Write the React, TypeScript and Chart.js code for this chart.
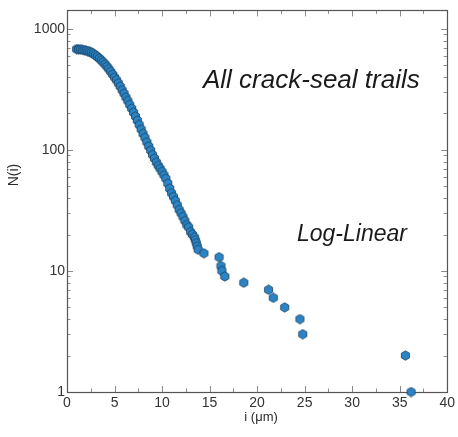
import React, { useEffect, useRef } from "react";
import { Chart, registerables } from "chart.js";

Chart.register(...registerables);

// Vein thickness i (µm) and cumulative number N(i)
const thickness = [
  1.0, 1.2, 1.4, 1.6, 1.8, 2.0, 2.2, 2.4, 2.6, 2.8,
  3.0, 3.2, 3.4, 3.6, 3.8, 4.0, 4.2, 4.4, 4.6, 4.8,
  5.0, 5.2, 5.4, 5.6, 5.8, 6.0, 6.2, 6.4, 6.6, 6.8,
  7.0, 7.2, 7.4, 7.6, 7.8, 8.0, 8.2, 8.4, 8.6, 8.8,
  9.0, 9.2, 9.4, 9.6, 9.8, 10.0, 10.2, 10.4, 10.6, 10.8,
  11.0, 11.2, 11.4, 11.6, 11.8, 12.0, 12.2, 12.4, 12.6, 12.8,
  13.0, 13.2, 13.4, 13.5, 13.6, 13.7, 13.8, 14.4,
  16.0, 16.2, 16.3, 16.6, 18.6, 21.2, 21.7, 22.9, 24.5, 24.8, 35.6, 36.2,
];
const counts = [
  680, 678, 676, 672, 668, 662, 655, 645, 634, 620,
  605, 588, 570, 550, 530, 510, 488, 466, 443, 420,
  398, 378, 356, 334, 312, 292, 272, 254, 236, 220,
  204, 189, 175, 161, 148, 136, 126, 116, 107, 99,
  91, 85, 79, 74, 70, 66, 62, 58, 53, 48,
  44, 41, 38, 35, 32, 30, 28, 26, 24, 23,
  21, 20, 19, 18, 17, 16, 15, 14,
  13, 11, 10, 9, 8, 7, 6, 5, 4, 3, 2, 1,
];

const xTicks = [0, 5, 10, 15, 20, 25, 30, 35, 40];
const yTicks = [1, 10, 100, 1000];
const xMin = 0;
const xMax = 40;
const yMin = 1;
const yMax = 1420;

const xTitle = "i (\u03bcm)";
const yTitle = "N(i)";
const labelMain = "All crack-seal trails";
const labelMode = "Log-Linear";

const FONT = "'Liberation Sans', Arial, Helvetica, sans-serif";

function makeHexagon(): HTMLCanvasElement {
  const size = 11;
  const c = document.createElement("canvas");
  c.width = size;
  c.height = size;
  const ctx = c.getContext("2d")!;
  const r = 4.7;
  const cx = size / 2;
  const cy = size / 2;
  ctx.beginPath();
  for (let k = 0; k < 6; k++) {
    const a = -Math.PI / 2 + (k * Math.PI) / 3;
    const px = cx + r * Math.cos(a);
    const py = cy + r * Math.sin(a);
    if (k === 0) ctx.moveTo(px, py);
    else ctx.lineTo(px, py);
  }
  ctx.closePath();
  ctx.fillStyle = "#2b84c4";
  ctx.fill();
  ctx.lineWidth = 0.8;
  ctx.strokeStyle = "#1b3f5e";
  ctx.stroke();
  return c;
}

const framePlugin = {
  id: "framePlugin",
  beforeDatasetsDraw(chart: any) {
    const { ctx, chartArea } = chart;
    const xs = chart.scales.x;
    const ys = chart.scales.y;
    const { left, right, top, bottom } = chartArea;
    ctx.save();
    ctx.strokeStyle = "#8a8a8a";
    ctx.lineWidth = 1;
    const major = 6;
    const minor = 3.5;
    ctx.beginPath();
    for (let v = xMin; v <= xMax; v += 2.5) {
      const isMajor = Math.abs(v % 5) < 1e-9;
      const len = isMajor ? major : minor;
      const px = Math.round(xs.getPixelForValue(v)) + 0.5;
      ctx.moveTo(px, bottom);
      ctx.lineTo(px, bottom - len);
      ctx.moveTo(px, top);
      ctx.lineTo(px, top + len);
    }
    for (let d = 1; d <= 1000; d *= 10) {
      for (let m = 1; m <= 9; m++) {
        const v = d * m;
        if (v > yMax) continue;
        const len = m === 1 ? major : minor;
        const py = Math.round(ys.getPixelForValue(v)) + 0.5;
        ctx.moveTo(left, py);
        ctx.lineTo(left + len, py);
        ctx.moveTo(right, py);
        ctx.lineTo(right - len, py);
      }
    }
    ctx.stroke();
    ctx.strokeStyle = "#555555";
    ctx.lineWidth = 1.2;
    ctx.strokeRect(Math.round(left) + 0.5, Math.round(top) + 0.5, Math.round(right - left), Math.round(bottom - top));
    ctx.restore();
  },
  afterDraw(chart: any) {
    const { ctx, chartArea } = chart;
    ctx.save();
    ctx.fillStyle = "#1a1a1a";
    ctx.textBaseline = "alphabetic";
    ctx.textAlign = "left";
    ctx.font = `italic 26px ${FONT}`;
    ctx.fillText(labelMain, 203, 88);
    ctx.font = `italic 23px ${FONT}`;
    ctx.fillText(labelMode, 297, 241);

    ctx.fillStyle = "#2a2a2a";
    ctx.font = `13px ${FONT}`;
    ctx.textAlign = "center";
    ctx.textBaseline = "middle";
    ctx.fillText(xTitle, (chartArea.left + chartArea.right) / 2 + 4, 417);

    ctx.font = `14px ${FONT}`;
    ctx.translate(14, 175);
    ctx.rotate(-Math.PI / 2);
    ctx.fillText(yTitle, 0, 0);
    ctx.restore();
  },
};

export default function App() {
  const ref = useRef<HTMLCanvasElement | null>(null);

  useEffect(() => {
    if (!ref.current) return;
    const hex = makeHexagon();
    const points = thickness.map((x, i) => ({ x, y: counts[i] }));
    const chart = new Chart(ref.current, {
      type: "scatter",
      data: {
        datasets: [
          {
            data: points,
            pointStyle: hex as any,
            pointRadius: 5,
            pointHoverRadius: 5,
            clip: false as any,
          },
        ],
      },
      options: {
        animation: false,
        responsive: false,
        events: [],
        layout: { padding: { top: 9, right: 8, left: 0, bottom: 0 } },
        plugins: {
          legend: { display: false },
          tooltip: { enabled: false },
          title: { display: false },
        },
        scales: {
          x: {
            type: "linear",
            min: xMin,
            max: xMax,
            grid: { display: false, drawTicks: false },
            border: { display: false },
            afterBuildTicks: (s: any) => {
              s.ticks = xTicks.map((v) => ({ value: v }));
            },
            afterFit: (s: any) => {
              s.height = 45;
            },
            ticks: {
              padding: 3,
              color: "#333333",
              font: { size: 14, family: FONT },
              maxRotation: 0,
              autoSkip: false,
            },
          },
          y: {
            type: "logarithmic",
            min: yMin,
            max: yMax,
            grid: { display: false, drawTicks: false },
            border: { display: false },
            afterBuildTicks: (s: any) => {
              s.ticks = yTicks.map((v) => ({ value: v }));
            },
            afterFit: (s: any) => {
              s.width = 67;
            },
            ticks: {
              padding: 2,
              color: "#333333",
              font: { size: 14, family: FONT },
              autoSkip: false,
              callback: (v: any) => String(v),
            },
          },
        },
      },
      plugins: [framePlugin],
    });
    return () => chart.destroy();
  }, []);

  return (
    <div style={{ position: "fixed", left: 0, top: 0, width: 458, height: 437, background: "#fff" }}>
      <canvas ref={ref} width={458} height={437} style={{ display: "block" }} />
    </div>
  );
}
